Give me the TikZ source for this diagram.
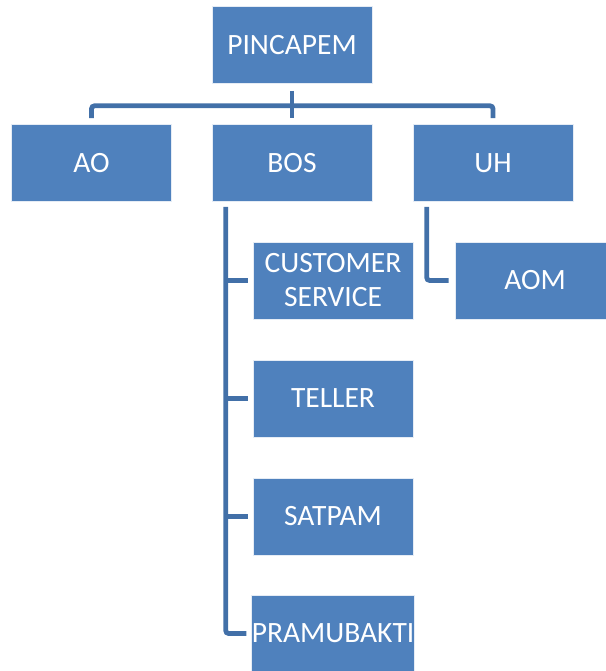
\documentclass[tikz,border=0pt]{standalone}
\usepackage{fontspec}
\setmainfont{Carlito}
\usetikzlibrary{calc}
\definecolor{boxblue}{HTML}{4F81BD}
\definecolor{lineblue}{HTML}{4270A8}
\begin{document}
\begin{tikzpicture}[x=1pt,y=1pt,
  orgbox/.style={fill=boxblue, draw=white!85!boxblue, line width=0.6pt, minimum width=160pt, minimum height=77pt, inner sep=0pt,
    text=white, font=\fontsize{29.5}{34}\selectfont, align=center},
  conn/.style={draw=lineblue, line width=4.8pt, rounded corners=3pt}]
\useasboundingbox (0,0) rectangle (605,-671);
\node[orgbox] (pin) at (292,-45) {PINCAPEM};
\node[orgbox] (ao) at (91.5,-163) {AO};
\node[orgbox] (bos) at (292,-163) {BOS};
\node[orgbox] (uh) at (493,-163) {UH};
\node[orgbox] (cs) at (333,-280.5) {CUSTOMER\\SERVICE};
\node[orgbox] (tel) at (333,-398.5) {TELLER};
\node[orgbox] (sat) at (333,-516.5) {SATPAM};
\node[orgbox] (pra) at (333,-633.5) {PRAMUBAKTI};
\node[orgbox] (aom) at (535,-280.5) {AOM};
% top level connectors
\coordinate (bar) at ($(pin.south)+(0,-22pt)$);
\draw[conn] ($(pin.south)+(0,-7pt)$) -- ($(bos.north)+(0,6pt)$);
\draw[conn] ($(ao.north)+(0,6pt)$) |- (bar) -| ($(uh.north)+(0,6pt)$);
% BOS branch
\draw[conn] ($(bos.south west)+(14pt,-5pt)$) |- ($(pra.west)+(-5pt,0)$);
\draw[conn] ($(cs.west)+(-27pt,0)$) -- ($(cs.west)+(-5pt,0)$);
\draw[conn] ($(tel.west)+(-27pt,0)$) -- ($(tel.west)+(-5pt,0)$);
\draw[conn] ($(sat.west)+(-27pt,0)$) -- ($(sat.west)+(-5pt,0)$);
% UH branch
\draw[conn] ($(uh.south west)+(14pt,-5pt)$) |- ($(aom.west)+(-6pt,0)$);
\end{tikzpicture}
\end{document}
